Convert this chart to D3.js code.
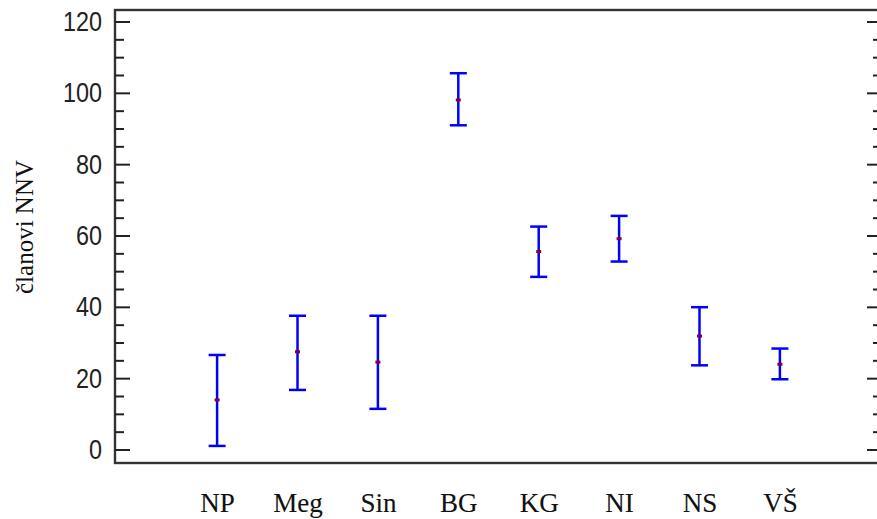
<!DOCTYPE html>
<html>
<head>
<meta charset="utf-8">
<script src="https://cdn.jsdelivr.net/npm/d3@7"></script>
<style>
  html, body { margin: 0; padding: 0; background: #ffffff; }
  svg { display: block; }
</style>
</head>
<body>
<svg id="chart" width="877" height="519"></svg>
<script>
// ---- data ----
const categories = ["NP", "Meg", "Sin", "BG", "KG", "NI", "NS", "VŠ"];
const means = [13.9, 27.4, 24.5, 98.0, 55.5, 59.1, 31.8, 23.9];
const lower = [1.0, 16.7, 11.4, 90.9, 48.4, 52.7, 23.6, 19.7];
const upper = [26.5, 37.5, 37.5, 105.5, 62.5, 65.5, 39.9, 28.3];
const majorTicks = [0, 20, 40, 60, 80, 100, 120];
const minorTicks = [5, 10, 15, 25, 30, 35, 45, 50, 55, 65, 70, 75, 85, 90, 95, 105, 110, 115];
const yLabel = "članovi NNV";

// ---- layout ----
const svg = d3.select("#chart");
const mLeft = 115, mRight = 882, mTop = 10, mBottom = 463;

const y = d3.scaleLinear().domain([0, 120]).range([449.5, 21.5]);
const x = d3.scalePoint().domain(categories).range([mLeft, mRight]).padding(1.27);

// frame
svg.append("rect")
  .attr("x", mLeft).attr("y", mTop)
  .attr("width", mRight - mLeft).attr("height", mBottom - mTop)
  .attr("fill", "none").attr("stroke", "#333").attr("stroke-width", 2.4);

// left axis (major + labels)
const gL = svg.append("g").attr("transform", `translate(${mLeft},0)`)
  .call(d3.axisLeft(y).tickValues(majorTicks).tickSize(-15).tickPadding(13).tickFormat(d3.format("d")));
gL.select(".domain").remove();
gL.selectAll(".tick line").attr("stroke", "#222").attr("stroke-width", 2);
gL.selectAll(".tick text")
  .attr("font-family", "'Liberation Sans', Arial, sans-serif")
  .attr("font-size", 28).attr("fill", "#222")
  .each(function () {
    const w = this.getComputedTextLength();
    d3.select(this).attr("textLength", w * 0.835).attr("lengthAdjust", "spacingAndGlyphs");
  });

// left minor
const gLm = svg.append("g").attr("transform", `translate(${mLeft},0)`)
  .call(d3.axisLeft(y).tickValues(minorTicks).tickSize(-9).tickFormat(""));
gLm.select(".domain").remove();
gLm.selectAll(".tick line").attr("stroke", "#222").attr("stroke-width", 2);

// right axis major + minor
const gR = svg.append("g").attr("transform", `translate(${mRight},0)`)
  .call(d3.axisRight(y).tickValues(majorTicks).tickSize(-15).tickFormat(""));
gR.select(".domain").remove();
gR.selectAll(".tick line").attr("stroke", "#222").attr("stroke-width", 2);
const gRm = svg.append("g").attr("transform", `translate(${mRight},0)`)
  .call(d3.axisRight(y).tickValues(minorTicks).tickSize(-9).tickFormat(""));
gRm.select(".domain").remove();
gRm.selectAll(".tick line").attr("stroke", "#222").attr("stroke-width", 2);

// x labels
const gX = svg.append("g").attr("transform", `translate(0,${mBottom})`)
  .call(d3.axisBottom(x).tickSize(0).tickPadding(0));
gX.select(".domain").remove();
gX.selectAll(".tick text")
  .attr("dy", 0).attr("y", 49)
  .attr("font-family", "'Liberation Serif', 'Times New Roman', serif")
  .attr("font-size", 27).attr("fill", "#111")
  .attr("stroke", "#111").attr("stroke-width", 0.1);

// y axis title
svg.append("text")
  .attr("transform", `translate(33,227) rotate(-90)`)
  .attr("text-anchor", "middle")
  .attr("font-family", "'Liberation Serif', 'Times New Roman', serif")
  .attr("font-size", 25).attr("fill", "#111")
  .text(yLabel);

// error bars
const capW = 17;
const bars = svg.append("g").selectAll("g.bar").data(categories).join("g").attr("class", "bar");
bars.append("line")
  .attr("x1", (d) => x(d)).attr("x2", (d) => x(d))
  .attr("y1", (d, i) => y(upper[i])).attr("y2", (d, i) => y(lower[i]))
  .attr("stroke", "#0000ff").attr("stroke-width", 2.5);
bars.append("line")
  .attr("x1", (d) => x(d) - capW / 2).attr("x2", (d) => x(d) + capW / 2)
  .attr("y1", (d, i) => y(upper[i])).attr("y2", (d, i) => y(upper[i]))
  .attr("stroke", "#0000ff").attr("stroke-width", 2.5);
bars.append("line")
  .attr("x1", (d) => x(d) - capW / 2).attr("x2", (d) => x(d) + capW / 2)
  .attr("y1", (d, i) => y(lower[i])).attr("y2", (d, i) => y(lower[i]))
  .attr("stroke", "#0000ff").attr("stroke-width", 2.5);
bars.append("rect")
  .attr("x", (d) => x(d) - 2.5).attr("y", (d, i) => y(means[i]) - 1.5)
  .attr("width", 5).attr("height", 3)
  .attr("fill", "#8b0033");
</script>
</body>
</html>
